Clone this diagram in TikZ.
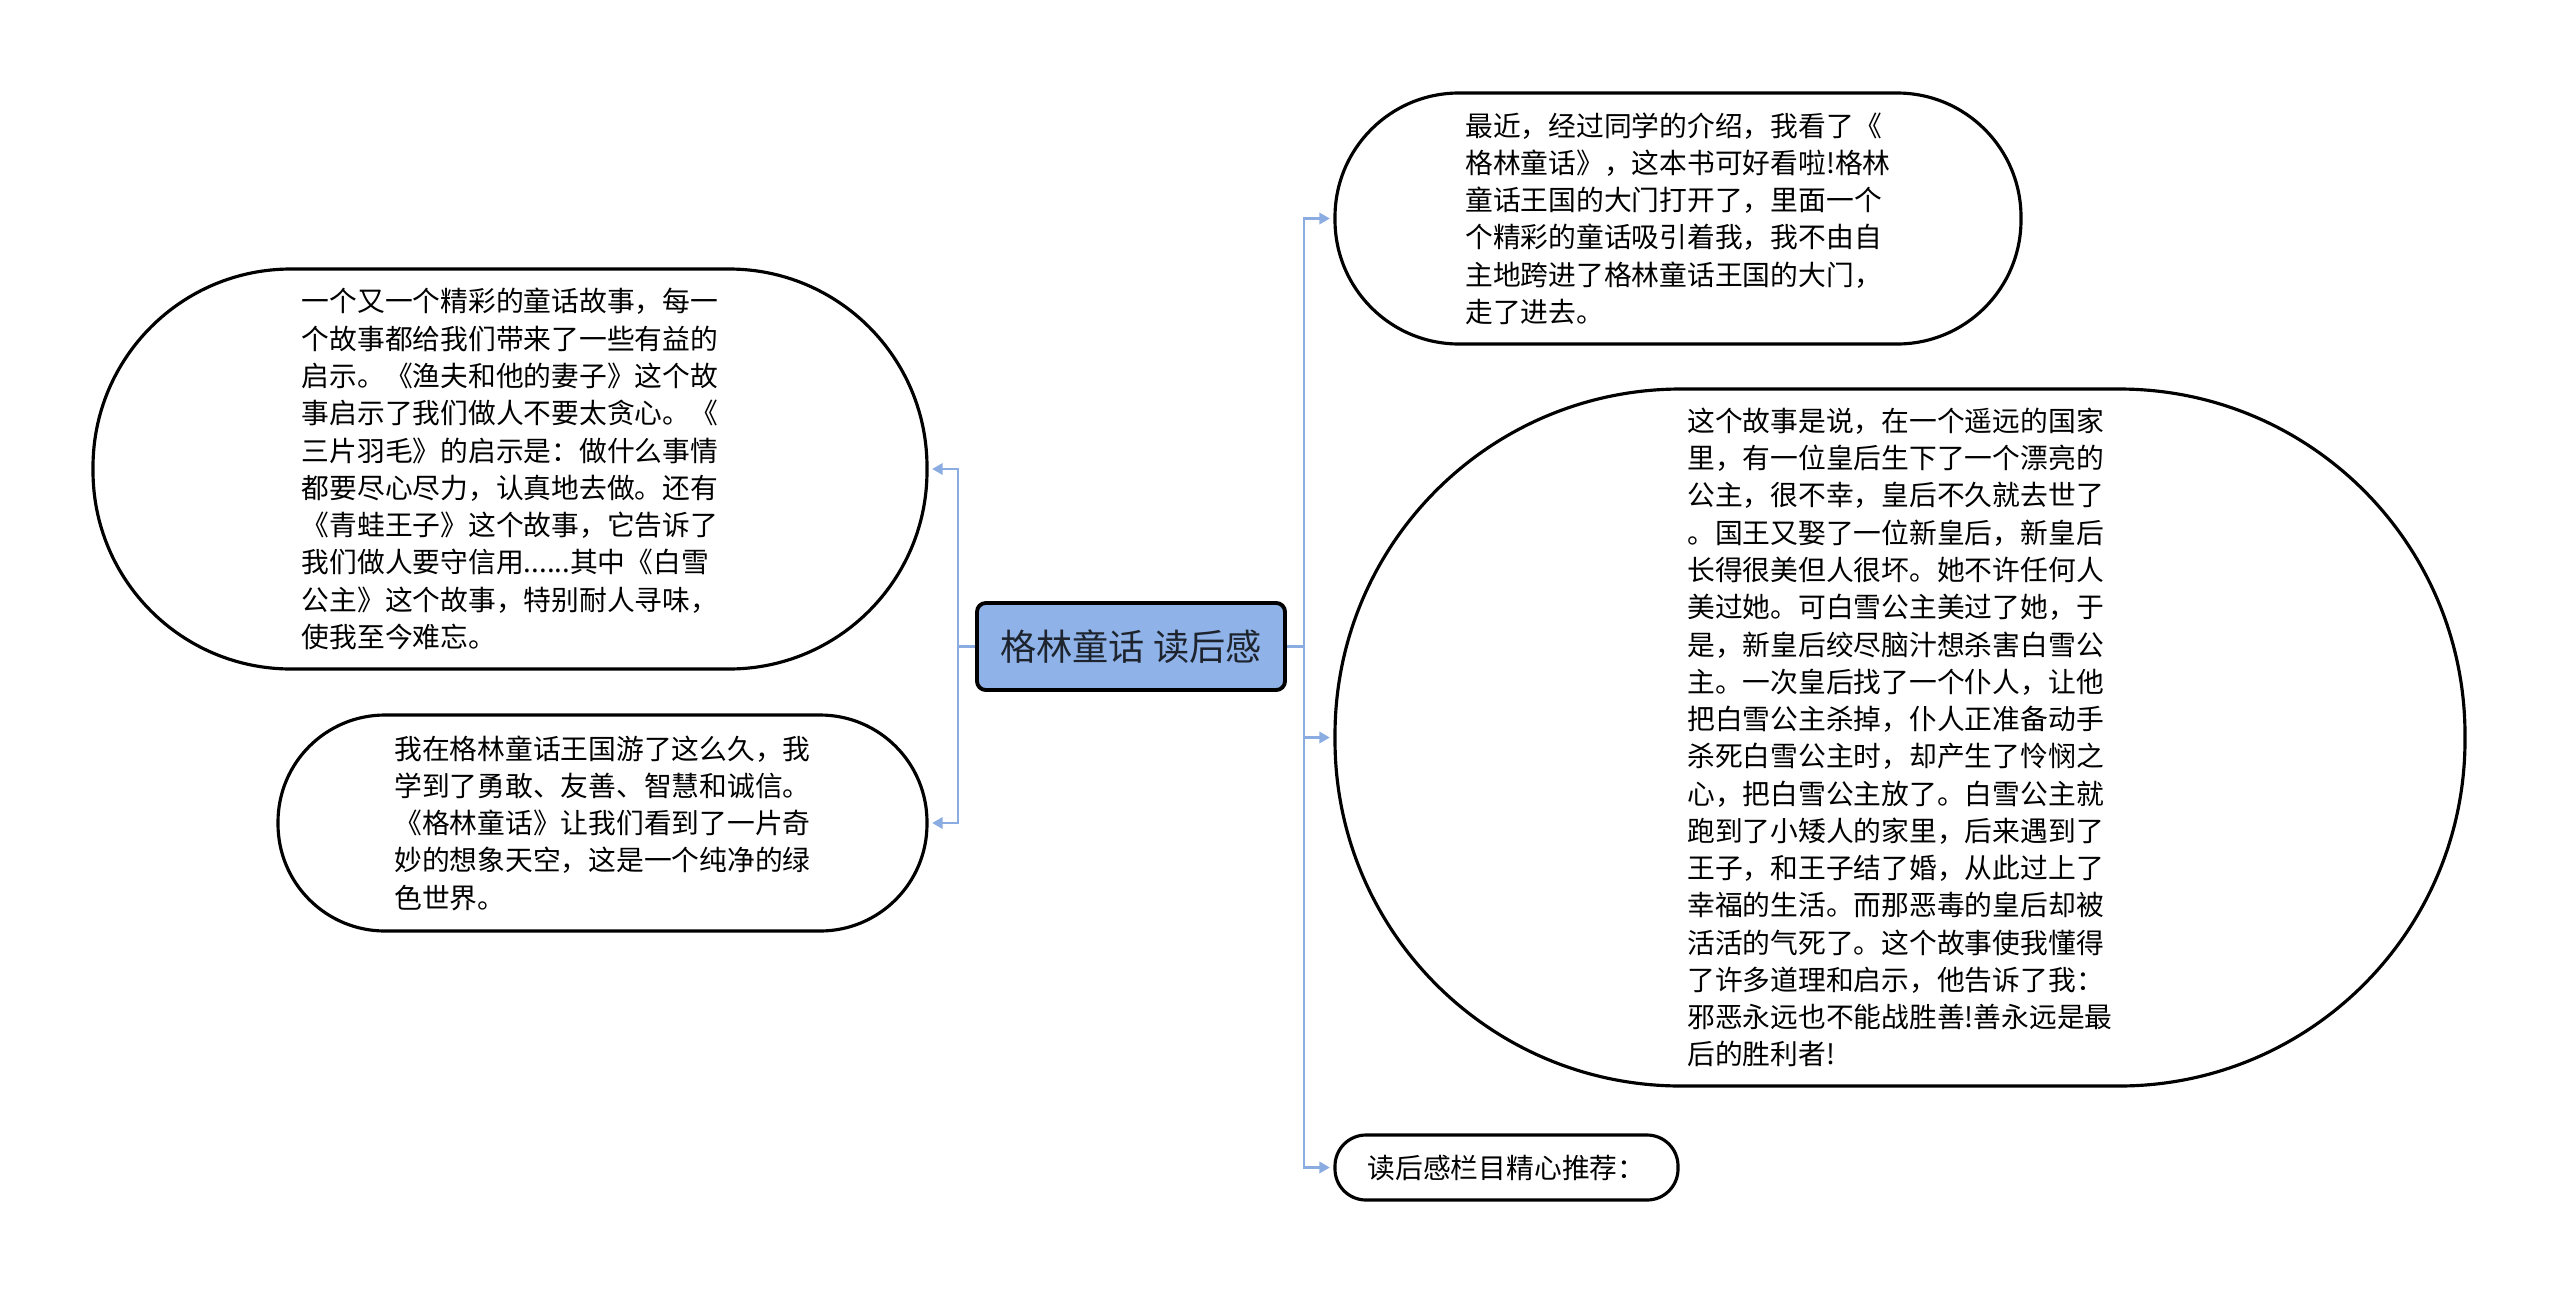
\documentclass[tikz,border=0pt]{standalone}
\usepackage{fontspec}
\setmainfont{Noto Sans CJK SC}
\usepackage{xcolor}
\usepackage{tikz}
\usetikzlibrary{arrows.meta, positioning, calc}
\definecolor{RootBlue}{RGB}{143, 179, 233}
\definecolor{LinkBlue}{RGB}{139, 172, 224}
\definecolor{RootInk}{RGB}{30, 36, 46}

\begin{document}
\begin{tikzpicture}[
    bubble/.style={draw=black, line width=0.9pt, fill=white, rounded corners=#1,
      align=left, inner sep=0pt, font=\fontsize{7.9}{10.6}\selectfont},
    link/.style={draw=LinkBlue, line width=0.8pt,
      -{Triangle[length=3pt, width=3.2pt]}, shorten >=1pt}
  ]
  \useasboundingbox (0,0) rectangle (25.6,-12.93);

  % central topic
  \node[fill=RootBlue, draw=black, line width=1.1pt, rounded corners=2.5pt,
    minimum width=3.08cm, minimum height=0.87cm, text=RootInk,
    font=\fontsize{10.3}{12}\selectfont] (root) at (11.31,-6.465) {格林童话 读后感};
  \coordinate (lfork) at (9.58,-6.465);
  \coordinate (rfork) at (13.04,-6.465);

  % left side
  \node[bubble=1.98cm, minimum width=8.34cm, minimum height=4.0cm] (fairy) at (5.10,-4.69) {%
    一个又一个精彩的童话故事，每一\\
    个故事都给我们带来了一些有益的\\
    启示。《渔夫和他的妻子》这个故\\
    事启示了我们做人不要太贪心。《\\
    三片羽毛》的启示是：做什么事情\\
    都要尽心尽力，认真地去做。还有\\
    《青蛙王子》这个故事，它告诉了\\
    我们做人要守信用......其中《白雪\\
    公主》这个故事，特别耐人寻味，\\
    使我至今难忘。};
  \node[bubble=1.07cm, minimum width=6.49cm, minimum height=2.16cm] (lesson) at (6.025,-8.23) {%
    我在格林童话王国游了这么久，我\\
    学到了勇敢、友善、智慧和诚信。\\
    《格林童话》让我们看到了一片奇\\
    妙的想象天空，这是一个纯净的绿\\
    色世界。};

  % right side
  \node[bubble=1.24cm, minimum width=6.86cm, minimum height=2.51cm] (intro) at (16.78,-2.185) {%
    最近，经过同学的介绍，我看了《\\
    格林童话》，这本书可好看啦!格林\\
    童话王国的大门打开了，里面一个\\
    个精彩的童话吸引着我，我不由自\\
    主地跨进了格林童话王国的大门，\\
    走了进去。};
  \node[bubble=3.46cm, minimum width=11.30cm, minimum height=6.97cm] (snow) at (19.00,-7.375) {%
    这个故事是说，在一个遥远的国家\\
    里，有一位皇后生下了一个漂亮的\\
    公主，很不幸，皇后不久就去世了\\
    。国王又娶了一位新皇后，新皇后\\
    长得很美但人很坏。她不许任何人\\
    美过她。可白雪公主美过了她，于\\
    是，新皇后绞尽脑汁想杀害白雪公\\
    主。一次皇后找了一个仆人，让他\\
    把白雪公主杀掉，仆人正准备动手\\
    杀死白雪公主时，却产生了怜悯之\\
    心，把白雪公主放了。白雪公主就\\
    跑到了小矮人的家里，后来遇到了\\
    王子，和王子结了婚，从此过上了\\
    幸福的生活。而那恶毒的皇后却被\\
    活活的气死了。这个故事使我懂得\\
    了许多道理和启示，他告诉了我：\\
    邪恶永远也不能战胜善!善永远是最\\
    后的胜利者!};
  \node[bubble=0.31cm, minimum width=3.43cm, minimum height=0.65cm] (more) at (15.065,-11.675) {读后感栏目精心推荐：};

  % connectors
  \draw[LinkBlue, line width=0.8pt] (root.west) -- (lfork);
  \draw[LinkBlue, line width=0.8pt] (root.east) -- (rfork);
  \draw[link] (lfork) |- (fairy.east);
  \draw[link] (lfork) |- (lesson.east);
  \draw[link] (rfork) |- (intro.west);
  \draw[link] (rfork) |- (snow.west);
  \draw[link] (rfork) |- (more.west);
\end{tikzpicture}
\end{document}
